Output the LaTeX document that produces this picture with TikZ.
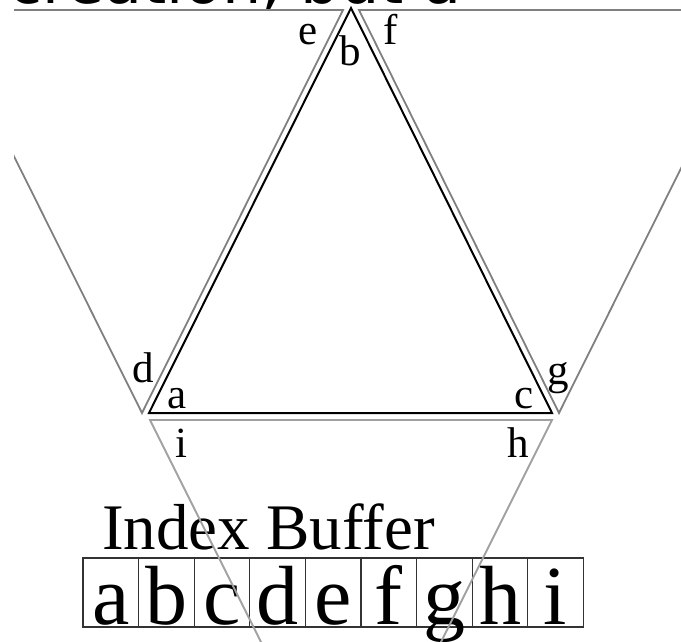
\documentclass[tikz,border=0pt]{standalone}
\usepackage{fontspec}
\setmainfont{Liberation Serif}
\newfontfamily\topfont{DejaVu Sans}
\definecolor{sidegray}{HTML}{808080}
\definecolor{lowgray}{HTML}{A0A0A0}
\definecolor{cellline}{HTML}{333333}
\begin{document}
\begin{tikzpicture}[x=1pt,y=-1pt,
  lbl/.style={anchor=base,inner sep=0pt,font=\fontsize{43}{43}\selectfont},
  cellbox/.style={draw=cellline,line width=1.3pt,minimum width=55.6pt,inner xsep=0pt,inner ysep=0pt,
    text height=66pt,text depth=3pt,font=\fontsize{84}{84}\selectfont},
  sideline/.style={draw=sidegray,line width=1.8pt,line join=miter},
  lowline/.style={draw=lowgray,line width=1.8pt,line join=miter},
  mainline/.style={draw=black,line width=2pt,line join=miter}]
\useasboundingbox (0,0) rectangle (681,642);
\clip (0,0) rectangle (681,642);

% cropped heading text at the top
\node[anchor=base west,inner sep=0pt,text depth=0pt,font=\topfont\fontsize{62}{62}\selectfont] (heading) at (8,3.5) {creation, but a};

% vertices
\coordinate (A) at (149,413);
\coordinate (B) at (351,8);
\coordinate (C) at (552,413);
\coordinate (D) at (142,413);
\coordinate (E) at (343,10);
\coordinate (L) at (-59,10);
\coordinate (G) at (559,413);
\coordinate (F) at (359,10);
\coordinate (R) at (760,10);
\coordinate (I) at (150,420);
\coordinate (H) at (552,420);
\coordinate (Bt) at (351,822);

% labels
\node[lbl] (le) at (308,45) {e};
\node[lbl] (lb) at (350,66) {b};
\node[lbl] (lf) at (391,45) {f};
\node[lbl] (ld) at (143,382) {d};
\node[lbl] (la) at (177,408) {a};
\node[lbl] (lc) at (524,408) {c};
\node[lbl] (lg) at (558,384) {g};
\node[lbl] (li) at (181,457) {i};
\node[lbl] (lh) at (518,457) {h};

% index buffer
\node[anchor=base west,inner sep=0pt,font=\fontsize{65}{65}\selectfont] (title) at (102,549) {Index Buffer};
\node[cellbox] (c1) at (110.8,592.5) {a};
\node[cellbox] (c2) at (166.4,592.5) {b};
\node[cellbox] (c3) at (222.0,592.5) {c};
\node[cellbox] (c4) at (277.6,592.5) {d};
\node[cellbox] (c5) at (333.2,592.5) {e};
\node[cellbox] (c6) at (388.8,592.5) {f};
\node[cellbox] (c7) at (444.4,592.5) {g};
\node[cellbox] (c8) at (500.0,592.5) {h};
\node[cellbox] (c9) at (555.6,592.5) {i};

% main triangle
\draw[mainline] (A) -- (B) -- (C) -- cycle;

% neighbouring triangles
\begin{scope}
\clip (14,0) rectangle (681,642);
\draw[sideline] (L) -- (E) -- (D) -- cycle;
\draw[sideline] (F) -- (R) -- (G) -- cycle;
\draw[lowline] (I) -- (H) -- (Bt) -- cycle;
\end{scope}
\end{tikzpicture}
\end{document}
